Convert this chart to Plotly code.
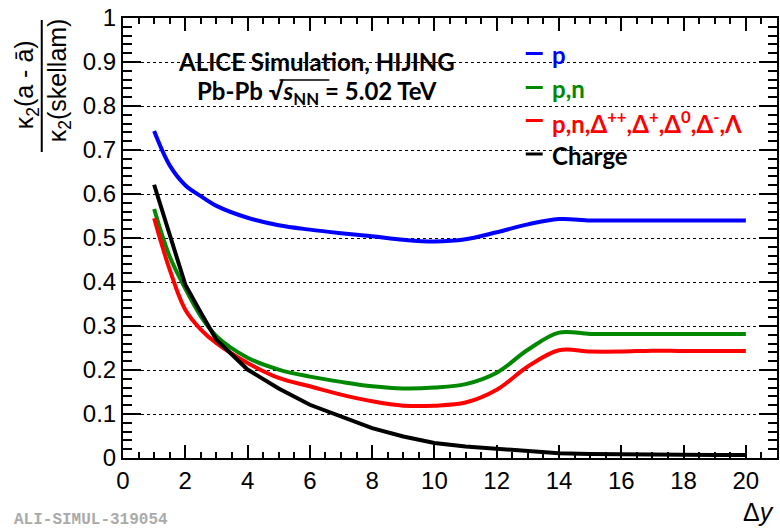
import plotly.graph_objects as go

# ---- data ----
dy = [1, 1.5, 2, 2.5, 3, 4, 5, 6, 7, 8, 9, 10, 11, 12, 13, 14, 15, 16, 17, 18, 19, 20]
k_p = [0.743, 0.665, 0.620, 0.595, 0.573, 0.546, 0.529, 0.519, 0.511, 0.504, 0.496, 0.492,
       0.497, 0.513, 0.531, 0.543, 0.540, 0.540, 0.540, 0.540, 0.540, 0.540]
k_pn = [0.566, 0.458, 0.385, 0.322, 0.277, 0.228, 0.201, 0.185, 0.173, 0.163, 0.158, 0.160,
        0.168, 0.194, 0.246, 0.285, 0.282, 0.282, 0.282, 0.282, 0.282, 0.282]
k_res = [0.545, 0.428, 0.337, 0.292, 0.261, 0.216, 0.182, 0.163, 0.144, 0.129, 0.119, 0.119,
         0.126, 0.155, 0.208, 0.245, 0.242, 0.242, 0.244, 0.243, 0.243, 0.243]
k_ch = [0.621, 0.507, 0.394, 0.330, 0.269, 0.201, 0.158, 0.121, 0.095, 0.068, 0.049, 0.034,
        0.026, 0.021, 0.015, 0.011, 0.009, 0.008, 0.007, 0.007, 0.007, 0.007]

series_names = ["p", "p,n",
                "p,n,Δ<sup>++</sup>,Δ<sup>+</sup>,Δ<sup>0</sup>,Δ<sup>-</sup>,Λ",
                "Charge"]
series_vals = [k_p, k_pn, k_res, k_ch]
colors = ["#0000ff", "#008800", "#ff0000", "#000000"]
shapes_line = ["spline", "spline", "spline", "linear"]

W, H = 780, 529
L, R, T, B = 123, 1, 18, 71
PW, PH = W - L - R, H - T - B

def px(x):
    return (x - L) / PW

def py(y):
    return (H - B - y) / PH

fig = go.Figure()
for name, vals, c, sh in zip(series_names, series_vals, colors, shapes_line):
    fig.add_trace(go.Scatter(x=dy, y=vals, mode="lines", name=name,
                             line=dict(color=c, width=4, shape=sh, smoothing=1.0),
                             showlegend=False))

tickfont = dict(family="Liberation Sans, Arial, sans-serif", size=24, color="black")

fig.update_layout(
    width=W, height=H,
    margin=dict(l=L, r=R, t=T, b=B, pad=0),
    plot_bgcolor="white", paper_bgcolor="white",
    xaxis=dict(range=[0, 21], dtick=2, tick0=0, ticks="inside", ticklen=13, tickwidth=1.5,
               tickcolor="black", showline=True, linecolor="black", linewidth=2,
               mirror="allticks", showgrid=False, zeroline=False, tickfont=tickfont,
               minor=dict(dtick=0.5, ticks="inside", ticklen=6, tickwidth=1.5, tickcolor="black",
                          showgrid=False)),
    yaxis=dict(range=[0, 1], dtick=0.1, tick0=0, ticks="inside", ticklen=18, tickwidth=1.5,
               tickcolor="black", showline=True, linecolor="black", linewidth=2,
               mirror="allticks", showgrid=True, gridcolor="black", griddash="dot", gridwidth=1,
               zeroline=False, tickfont=tickfont,
               minor=dict(dtick=0.02, ticks="inside", ticklen=9, tickwidth=1.5, tickcolor="black",
                          showgrid=False)),
)

shapes = []
# white boxes (text / legend background), drawn above the grid, below the data
shapes.append(dict(type="rect", xref="paper", yref="paper", layer="between",
                   x0=px(166), x1=px(468), y0=py(125), y1=py(40),
                   fillcolor="white", line=dict(width=0)))
shapes.append(dict(type="rect", xref="paper", yref="paper", layer="between",
                   x0=px(517), x1=px(760), y0=py(172), y1=py(34),
                   fillcolor="white", line=dict(width=0)))

annotations = []
legend_y = [53.5, 87.5, 120.5, 154]
for name, c, yy in zip(series_names, colors, legend_y):
    shapes.append(dict(type="line", xref="paper", yref="paper", x0=px(527), x1=px(544),
                       y0=py(yy), y1=py(yy), line=dict(color=c, width=3)))
    annotations.append(dict(xref="paper", yref="paper", x=px(551), y=py(yy + 1),
                            xanchor="left", yanchor="middle", showarrow=False,
                            text="<b>" + name + "</b>",
                            font=dict(family="Lato, sans-serif", size=24, color=c)))

hdr_font = dict(family="Lato, sans-serif", size=24, color="black")
annotations.append(dict(xref="paper", yref="paper", x=px(317), y=py(62),
                        xanchor="center", yanchor="middle", showarrow=False,
                        text="<b>ALICE Simulation, HIJING</b>", font=hdr_font))
annotations.append(dict(xref="paper", yref="paper", x=px(318), y=py(93),
                        xanchor="center", yanchor="middle", showarrow=False,
                        text="<b>Pb-Pb √<i>s</i><sub>NN</sub> = 5.02 TeV</b>", font=hdr_font))
# overline of the square root sign
shapes.append(dict(type="line", xref="paper", yref="paper", x0=px(280), x1=px(330),
                   y0=py(80), y1=py(80), line=dict(color="black", width=1.5)))

# y-axis title as a fraction
ytf = dict(family="Liberation Sans, Arial, sans-serif", size=25, color="black")
annotations.append(dict(xref="paper", yref="paper", x=px(26), y=py(85),
                        xanchor="center", yanchor="middle", showarrow=False, textangle=-90,
                        text="κ<sub>2</sub>(a - ā)", font=ytf))
annotations.append(dict(xref="paper", yref="paper", x=px(59), y=py(80),
                        xanchor="center", yanchor="middle", showarrow=False, textangle=-90,
                        text="κ<sub>2</sub>(skellam)", font=ytf))
shapes.append(dict(type="line", xref="paper", yref="paper", x0=px(41.5), x1=px(41.5),
                   y0=py(20), y1=py(152), line=dict(color="black", width=2)))

# x-axis title
annotations.append(dict(xref="paper", yref="paper", x=px(778), y=py(512),
                        xanchor="right", yanchor="middle", showarrow=False,
                        text="Δ<i>y</i>",
                        font=dict(family="Liberation Sans, Arial, sans-serif", size=25, color="black")))

# watermark
annotations.append(dict(xref="paper", yref="paper", x=px(12), y=py(520),
                        xanchor="left", yanchor="middle", showarrow=False,
                        text="<b>ALI-SIMUL-319054</b>",
                        font=dict(family="Liberation Mono, monospace", size=16, color="#aaaaaa")))

fig.update_layout(shapes=shapes, annotations=annotations)
fig.write_html("out.html")
